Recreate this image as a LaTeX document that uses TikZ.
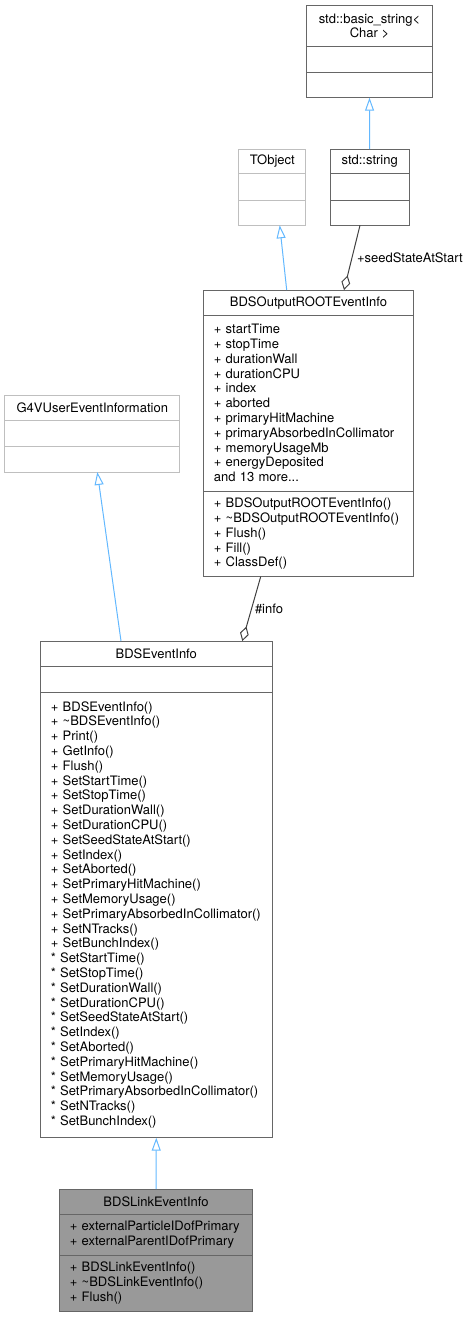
\documentclass[tikz,border=0pt]{standalone}
\usepackage{fontspec}
\setmainfont{TeX Gyre Heros}
\usepackage{xcolor}
\usetikzlibrary{positioning}
\usetikzlibrary{arrows.meta}

\definecolor{boxline}{HTML}{666666}
\definecolor{boxpale}{HTML}{BFBFBF}
\definecolor{boxfill}{HTML}{999999}
\definecolor{inhline}{HTML}{63B8FF}
\definecolor{useline}{HTML}{404040}

\tikzset{
    every node/.style={font=\fontsize{13}{14.8}\selectfont, outer sep=0pt},
    clstitle/.style={draw=boxline, line width=1pt, minimum width=#1, inner sep=0pt, align=center, anchor=north},
    clspart/.style={draw=boxline, line width=1pt, text width=#1, inner xsep=10.5pt, inner ysep=2pt, align=left,
        execute at begin node={\hyphenpenalty=10000\exhyphenpenalty=10000}},
    pale/.style={draw=boxpale},
    shaded/.style={fill=boxfill},
    inherit/.style={draw=inhline, line width=1pt, -{Triangle[open, length=13pt, width=9pt]}},
    aggr/.style={draw=useline, line width=1pt, {Diamond[open, length=15pt, width=9pt]}-},
    edgelabel/.style={anchor=west, inner sep=0pt}
}

\begin{document}
\begin{tikzpicture}[x=1pt, y=-1pt, node distance=0pt]
        \useasboundingbox (0, 0) rectangle (470, 1317);
        % Basisklassen oben
        \node[clstitle=125.6pt, minimum height=41pt] (bstr) at (369.5, 5.7) {std::basic\_string<\\Char >};
        \node[clspart=104.6pt, minimum height=25.3pt, below=0pt of bstr] (bstra) {};
        \node[clspart=104.6pt, minimum height=25.7pt, below=0pt of bstra] (bstrm) {};

        \node[clstitle=79.3pt, minimum height=24.7pt] (str) at (369.7, 149) {std::string};
        \node[clspart=58.3pt, minimum height=26.3pt, below=0pt of str] (stra) {};
        \node[clspart=58.3pt, minimum height=25.3pt, below=0pt of stra] (strm) {};

        \node[clstitle=66.7pt, pale, minimum height=24.7pt] (tobj) at (272.3, 149) {TObject};
        \node[clspart=45.7pt, pale, minimum height=26.3pt, below=0pt of tobj] (tobja) {};
        \node[clspart=45.7pt, pale, minimum height=25.3pt, below=0pt of tobja] (tobjm) {};

        % BDSOutputROOTEventInfo
        \node[clstitle=210.4pt, minimum height=25.3pt] (outinfo) at (308.5, 290) {BDSOutputROOTEventInfo};
        \node[clspart=189.4pt, minimum height=175.7pt, below=0pt of outinfo] (outinfoa) {%
            +~startTime\\
            +~stopTime\\
            +~durationWall\\
            +~durationCPU\\
            +~index\\
            +~aborted\\
            +~primaryHitMachine\\
            +~primaryAbsorbedInCollimator\\
            +~memoryUsageMb\\
            +~energyDeposited\\
            and~13~more...};
        \node[clspart=189.4pt, minimum height=85.7pt, below=0pt of outinfoa] (outinfom) {%
            +~BDSOutputROOTEventInfo()\\
            +~\textasciitilde BDSOutputROOTEventInfo()\\
            +~Flush()\\
            +~Fill()\\
            +~ClassDef()};

        % G4VUserEventInformation
        \node[clstitle=174.7pt, pale, minimum height=25.7pt] (g4v) at (92.3, 395) {G4VUserEventInformation};
        \node[clspart=153.7pt, pale, minimum height=25.3pt, below=0pt of g4v] (g4va) {};
        \node[clspart=153.7pt, pale, minimum height=26pt, below=0pt of g4va] (g4vm) {};

        % BDSEventInfo
        \node[clstitle=232pt, minimum height=25.7pt] (evinfo) at (156.3, 641) {BDSEventInfo};
        \node[clspart=211pt, minimum height=25.3pt, below=0pt of evinfo] (evinfoa) {};
        \node[clspart=211pt, minimum height=445.7pt, below=0pt of evinfoa] (evinfom) {%
            +~BDSEventInfo()\\
            +~\textasciitilde BDSEventInfo()\\
            +~Print()\\
            +~GetInfo()\\
            +~Flush()\\
            +~SetStartTime()\\
            +~SetStopTime()\\
            +~SetDurationWall()\\
            +~SetDurationCPU()\\
            +~SetSeedStateAtStart()\\
            +~SetIndex()\\
            +~SetAborted()\\
            +~SetPrimaryHitMachine()\\
            +~SetMemoryUsage()\\
            +~SetPrimaryAbsorbedInCollimator()\\
            +~SetNTracks()\\
            +~SetBunchIndex()\\
            {*}~SetStartTime()\\
            {*}~SetStopTime()\\
            {*}~SetDurationWall()\\
            {*}~SetDurationCPU()\\
            {*}~SetSeedStateAtStart()\\
            {*}~SetIndex()\\
            {*}~SetAborted()\\
            {*}~SetPrimaryHitMachine()\\
            {*}~SetMemoryUsage()\\
            {*}~SetPrimaryAbsorbedInCollimator()\\
            {*}~SetNTracks()\\
            {*}~SetBunchIndex()};

        % BDSLinkEventInfo
        \node[clstitle=193.4pt, shaded, minimum height=25.7pt] (link) at (156, 1189) {BDSLinkEventInfo};
        \node[clspart=172.4pt, shaded, minimum height=40.6pt, below=0pt of link] (linka) {%
            +~externalParticleIDofPrimary\\
            +~externalParentIDofPrimary};
        \node[clspart=172.4pt, shaded, minimum height=55.7pt, below=0pt of linka] (linkm) {%
            +~BDSLinkEventInfo()\\
            +~\textasciitilde BDSLinkEventInfo()\\
            +~Flush()};

        % Vererbung
        \draw[inherit] (str.north) -- (bstrm.south);
        \draw[inherit] ([xshift=-21.8pt]outinfo.north) -- ([xshift=7.4pt]tobjm.south);
        \draw[inherit] ([xshift=-35.3pt]evinfo.north) -- ([xshift=5pt]g4vm.south);
        \draw[inherit] (link.north) -- (evinfom.south);
        % Aggregation
        \draw[aggr] ([xshift=35.5pt]outinfo.north) -- node[edgelabel, xshift=5pt] {+seedStateAtStart} ([xshift=-9.7pt]strm.south);
        \draw[aggr] ([xshift=86pt]evinfo.north) -- node[edgelabel, xshift=3.5pt] {\#info} ([xshift=-47.8pt]outinfom.south);
\end{tikzpicture}
\end{document}
